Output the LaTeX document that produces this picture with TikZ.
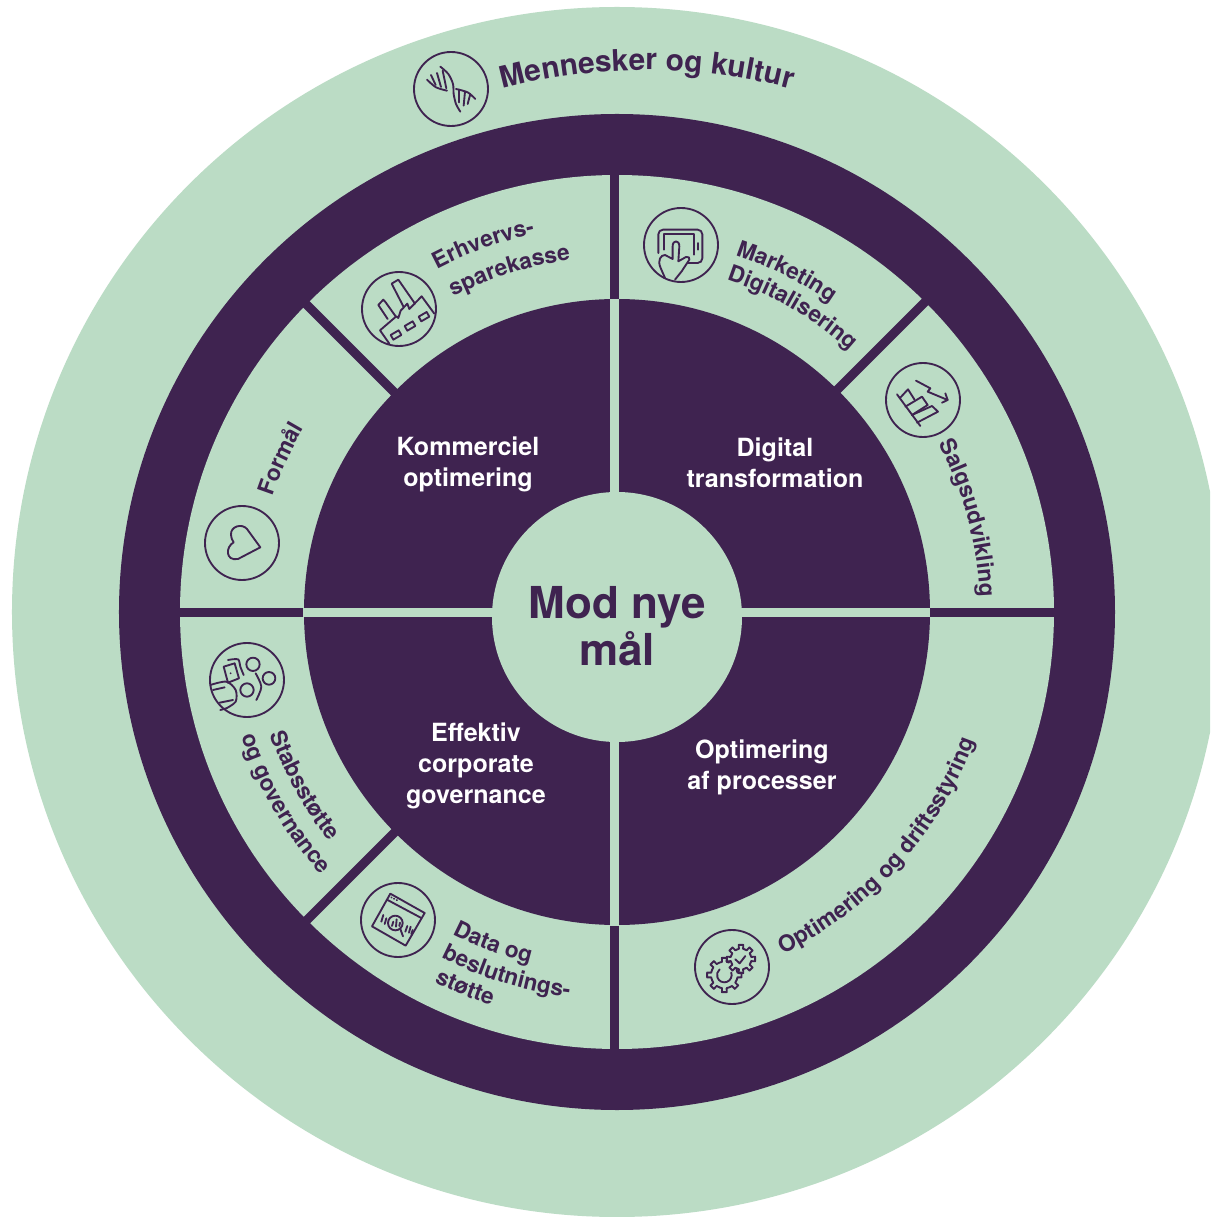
\documentclass[tikz,border=0pt]{standalone}
\usepackage{fontspec}
\setmainfont{TeX Gyre Heros}
\usetikzlibrary{decorations.text}
\definecolor{mint}{HTML}{BBDCC5}
\definecolor{plum}{HTML}{3F2350}
\tikzset{
  iconline/.style={draw=plum,line width=1.4pt,line cap=round,line join=round},
  hublabel/.style={text=white,align=center,font=\bfseries\fontsize{18.8}{23.3}\selectfont},
}
\newcommand{\ringfont}{\bfseries\fontsize{17}{20}\selectfont\color{plum}}
\newcommand{\topfont}{\bfseries\fontsize{22.4}{28}\selectfont\color{plum}}
% radius, mid angle, half span, text
\newcommand{\cwtext}[4]{\path[decorate,decoration={text along path,text align=center,text={|\ringfont|#4}}] (#2+#3:#1) arc[start angle=#2+#3,end angle=#2-#3,radius=#1];}
\newcommand{\ccwtext}[4]{\path[decorate,decoration={text along path,text align=center,text={|\ringfont|#4}}] (#2-#3:#1) arc[start angle=#2-#3,end angle=#2+#3,radius=#1];}
\newenvironment{iconat}[2]{\begin{scope}[shift={(#1,#2)},x=0.25pt,y=-0.25pt,line cap=round,line join=round]\draw[iconline] (0,0) circle[radius=111];\tikzset{every path/.style={iconline}}}{\end{scope}}
\begin{document}
\begin{tikzpicture}[x=0.75pt,y=0.75pt]
\useasboundingbox (-617,612) rectangle (593,-605);
\clip (-617,612) rectangle (593,-605);
\fill[white] (-617,612) rectangle (593,-605);
\fill[mint] (0,0) circle[radius=605];
\fill[plum] (0,0) circle[radius=498];
\fill[mint] (0,0) circle[radius=437];
\fill[plum] (0,0) circle[radius=313];
% dividers of the ring
\begin{scope}[shift={(-2.5,-0.5)}]
\fill[plum] (-4.5,300) rectangle (4.5,445);
\fill[plum] (-4.5,-300) rectangle (4.5,-445);
\fill[plum] (300,-4.5) rectangle (445,4.5);
\fill[plum] (-300,-4.5) rectangle (-445,4.5);
\draw[plum,line width=6.75pt] (45:300) -- (45:445);
\draw[plum,line width=6.75pt] (135:300) -- (135:445);
\draw[plum,line width=6.75pt] (225:300) -- (225:445);
\fill[mint] (-4.5,0) rectangle (4.5,313);
\fill[mint] (-4.5,0) rectangle (4.5,-313);
\fill[mint] (0,-4.5) rectangle (315,4.5);
\fill[mint] (0,-4.5) rectangle (-311,4.5);
\end{scope}
\node[circle,fill=mint,minimum size=187.5pt,inner sep=0pt] (hub) at (0,-5) {};
\node[align=center,text=plum,font=\bfseries\fontsize{33}{35}\selectfont] (hubtext) at (0,-14) {Mod nye\\mål};
\node[hublabel] (kommerciel) at (-149,148) {Kommerciel\\optimering};
\node[hublabel] (digital) at (158,149) {Digital\\transformation};
\node[hublabel] (processer) at (145,-155) {Optimering\\af processer};
\node[hublabel] (governance) at (-141,-154) {Effektiv\\corporate\\governance};
% curved labels
\path[decorate,decoration={text along path,text align=center,text={|\topfont|Mennesker og kultur}}] (30,-18) ++(110:560) arc[start angle=110,end angle=70,radius=560];
\cwtext{387}{110}{25}{Erhvervs-}
\cwtext{355}{107.5}{30}{sparekasse}
\cwtext{376}{63.5}{25}{Marketing}
\cwtext{350}{60}{30}{Digitalisering}
\cwtext{363}{15}{28}{Salgsudvikling}
\cwtext{363}{155.5}{25}{Formål}
\ccwtext{368}{209}{25}{Stabsstøtte}
\ccwtext{396}{210}{25}{og governance}
\ccwtext{362}{249.5}{25}{Data og}
\ccwtext{388}{253}{25}{beslutnings-}
\ccwtext{413}{248}{25}{støtte}
\ccwtext{380}{-42}{35}{Optimering og driftsstyring}
% icons
\begin{iconat}{-166}{523}
\draw plot[smooth] coordinates {(-32,-67) (-8,-45) (6,-15) (8,15) (15,45) (28,68)};
\draw plot[smooth] coordinates {(-72,-28) (-45,-5) (-12,5)};
\draw plot[smooth] coordinates {(15,0) (50,10) (73,30)};
\draw (-60,-42) -- (-46,-12);
\draw (-42,-48) -- (-30,-6);
\draw (-25,-55) -- (-14,-2);
\draw (24,2) -- (24,40);
\draw (42,8) -- (38,50);
\draw (58,15) -- (50,45);
\end{iconat}
\begin{iconat}{-218}{303}
\draw (-29,104) -- (-57,64) -- (-8,22) -- (-2,27) -- (5,5) -- (25,-16) -- (31,0) -- (68,-38) -- (106,14);
\draw (-34,30) -- (-62,-12) -- (-47,-28) -- (-40,-20) -- (-10,22);
\draw (13,-8) -- (-22,-76) -- (-2,-88) -- (48,-16);
\foreach \cx/\cy in {-9/78,33/51,75/23}
  \draw (\cx-16,\cy) -- ++(24,-14) -- ++(8,14) -- ++(-24,14) -- cycle;
\end{iconat}
\begin{iconat}{64}{367}
\draw[rounded corners=3.5pt] (-68,24) |- (64,-46) |- (22,54);
\draw (-51,14) |- (39,-33) -- (39,29);
\draw (50,-6) -- (50,14);
\draw (-48,99) -- (-61,69) .. controls (-72,45) and (-60,30) .. (-48,30) -- (-25,42) -- (-25,4) .. controls (-25,-16) and (-5,-16) .. (-5,4) -- (-8,49) -- (15,36) .. controls (22,34) and (28,38) .. (25,44) -- (2,79) -- (-18,104);
\end{iconat}
\begin{iconat}{306}{212}
\draw (-78,-17) -- (-8,78);
\draw (-70,-5) -- (-45,-32) -- (-26,-2);
\draw (-53,20) -- (-3,-10) -- (14,15) -- (-33,45);
\draw (-33,45) -- (27,18) -- (45,35) -- (-18,68);
\draw (-21,-58) -- (22,-35) -- (14,-25) -- (74,0);
\draw (57,8) -- (74,0) -- (67,-20);
\end{iconat}
\begin{iconat}{-375}{69}
\draw (55,13) -- (15,-42) .. controls (0,-60) and (-35,-50) .. (-33,-25) .. controls (-32,-14) and (-29,-8) .. (-25,-2) .. controls (-50,12) and (-50,55) .. (-12,48) -- cycle;
\end{iconat}
\begin{iconat}{-370}{-68}
\draw (18,-47) circle[radius=20];
\draw (66,-5) circle[radius=19];
\draw (0,30) circle[radius=20];
\draw (-70,-40) -- (-37,-50) -- (-24,-5) -- (-57,8) -- cycle;
\fill[plum,draw=none] (-49,-20) circle[radius=3];
\draw plot[smooth] coordinates {(-57,-60) (-27,-62) (-20,-40) (-10,-15)};
\draw plot[smooth] coordinates {(26,-20) (43,20) (28,60)};
\draw plot[smooth] coordinates {(-110,15) (-62,5) (-34,30) (-34,65) (-62,85)};
\draw (-62,85) -- (-80,90);
\draw (-102,30) -- (-67,22);
\draw (-82,68) -- (-42,60);
\end{iconat}
\begin{iconat}{-219}{-308}
\draw (-23,-79) -- (80,-21) -- (23,77) -- (-78,19) -- cycle;
\draw (-33,-61) -- (70,-6);
\draw (-8,9) circle[radius=22];
\draw (7,27) -- (15,49);
\draw (-35,-5) -- (-40,12);
\draw (-44,-15) -- (-50,5);
\draw (-14,5) -- (-18,18);
\draw (-4,-2) -- (-6,20);
\draw (6,8) -- (4,18);
\draw (28,18) -- (22,35);
\draw (38,20) -- (33,38);
\draw (44,30) -- (40,42);
\draw (-20,-68) -- (-19,-67.5);
\draw (-12,-64) -- (-11,-63.5);
\draw (-4,-60) -- (-3,-59.5);
\end{iconat}
\begin{iconat}{115}{-355}
\begin{scope}[shift={(27,-24)}]
\foreach \a in {0,45,...,315}
  \draw (\a-24:31) -- (\a-12:31) -- (\a-9:43) -- (\a+9:43) -- (\a+12:31) -- (\a+21:31);
\end{scope}
\begin{scope}[shift={(-23,24)}]
\foreach \a in {0,45,90,135,180,225,270}
  \draw (\a-24:40) -- (\a-10:40) -- (\a-8:52) -- (\a+8:52) -- (\a+10:40) -- (\a+21:40);
\draw (-20:22) arc[start angle=-20,end angle=230,radius=22];
\end{scope}
\draw (10,-23) -- (23,-11) -- (40,-33);
\end{iconat}
\end{tikzpicture}
\end{document}
